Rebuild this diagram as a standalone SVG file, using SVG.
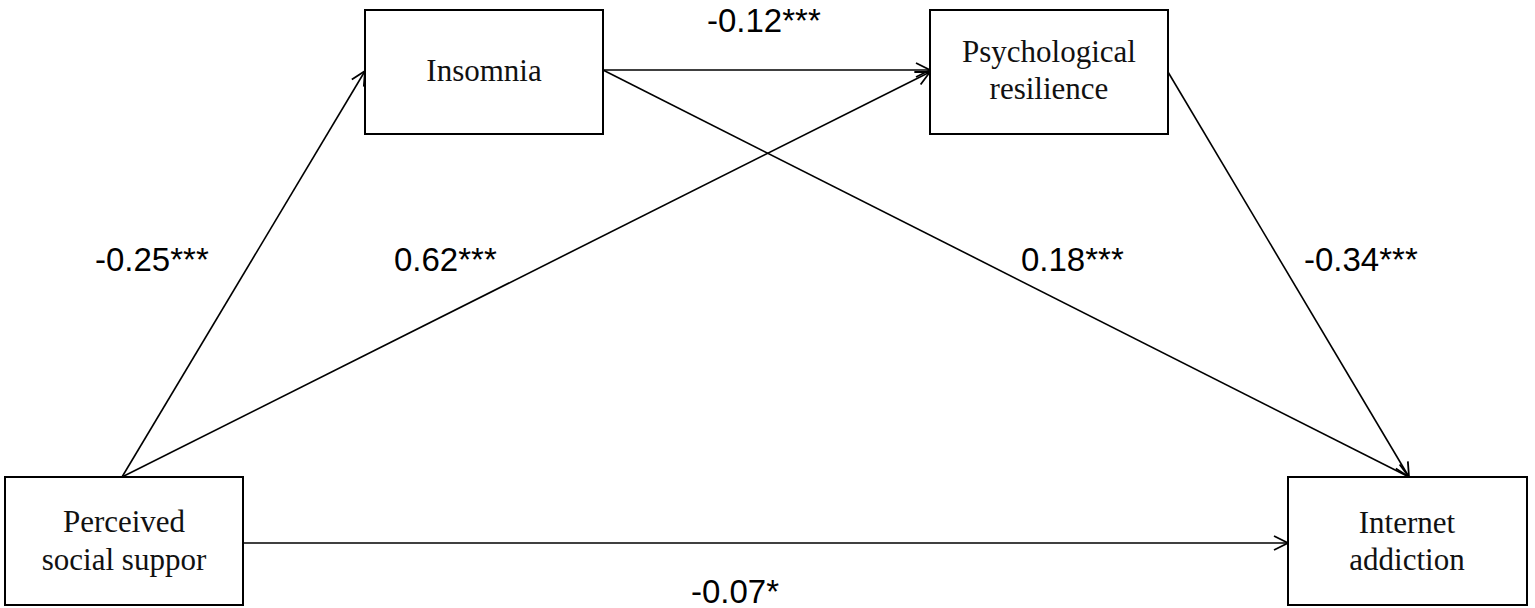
<svg xmlns="http://www.w3.org/2000/svg" width="1535" height="608" viewBox="0 0 1535 608">
<defs>
<marker id="arr" viewBox="0 0 20 20" refX="19" refY="10" markerWidth="20" markerHeight="20" markerUnits="userSpaceOnUse" orient="auto">
<path d="M5,3 L19,10 L5,17" fill="none" stroke="#000" stroke-width="1.8"/>
</marker>
</defs>
<style>
.box{fill:#fff;stroke:#000;stroke-width:2}
.nt{font-family:"Liberation Serif","Times New Roman",serif;font-size:31px;fill:#111;text-anchor:middle}
.lb{font-family:"Liberation Sans",Arial,sans-serif;font-size:33px;fill:#000}
.cn{stroke:#000;stroke-width:1.6;fill:none;marker-end:url(#arr)}
</style>
<rect width="1535" height="608" fill="#fff"/>
<g id="connectors">
<line class="cn" x1="122" y1="477" x2="365" y2="71"/>
<line class="cn" x1="122" y1="477" x2="930" y2="72"/>
<line class="cn" x1="603" y1="70" x2="930" y2="70"/>
<line class="cn" x1="603" y1="70" x2="1409" y2="477"/>
<line class="cn" x1="1168" y1="72" x2="1409" y2="477"/>
<line class="cn" x1="243" y1="543" x2="1288" y2="543"/>
</g>
<g id="labels">
<text class="lb" x="95" y="271">-0.25***</text>
<text class="lb" x="394" y="271">0.62***</text>
<text class="lb" x="1021" y="271">0.18***</text>
<text class="lb" x="1304" y="271">-0.34***</text>
<text class="lb" x="707" y="32">-0.12***</text>
<text class="lb" x="691" y="603">-0.07*</text>
</g>
<g id="node-insomnia">
<rect class="box" x="365" y="10" width="238" height="124"/>
<text class="nt" x="484" y="81">Insomnia</text>
</g>
<g id="node-resilience">
<rect class="box" x="930" y="10" width="238" height="124"/>
<text class="nt" x="1049" y="62">Psychological</text>
<text class="nt" x="1049" y="99">resilience</text>
</g>
<g id="node-support">
<rect class="box" x="5" y="477" width="238" height="128"/>
<text class="nt" x="124" y="532">Perceived</text>
<text class="nt" x="124" y="570">social suppor</text>
</g>
<g id="node-addiction">
<rect class="box" x="1288" y="477" width="239" height="128"/>
<text class="nt" x="1407" y="533">Internet</text>
<text class="nt" x="1407" y="570">addiction</text>
</g>
</svg>
